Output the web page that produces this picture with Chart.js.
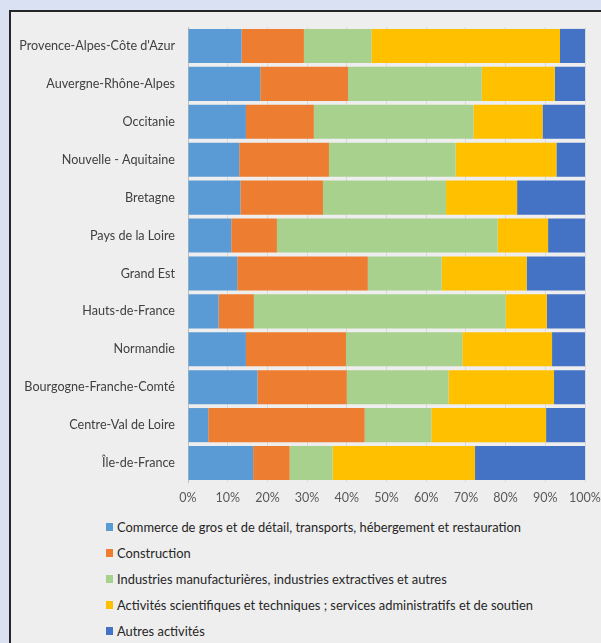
<!DOCTYPE html>
<html>
<head>
<meta charset="utf-8">
<script src="https://cdn.jsdelivr.net/npm/chart.js@4"></script>
<style>
  body { margin: 0; background: #dae1f3; font-family: Lato, "Open Sans", sans-serif; }
  #frame { position: absolute; left: 9px; top: 10px; width: 640px; height: 680px;
           background: #eeeeee; border-left: 2px solid #262626; border-top: 2px solid #262626; }
  #wrap { position: absolute; left: 0; top: 0; width: 601px; height: 512px; }
  #legend { position: absolute; left: 106px; top: 514px; margin: 0; padding: 0; list-style: none; }
  #legend li { height: 26px; display: flex; align-items: center; font-size: 12.9px; color: #262626; }
  #legend span.box { display: inline-block; width: 7px; height: 8px; margin-right: 4px; }
</style>
</head>
<body>
<div id="frame"></div>
<div id="wrap"><canvas id="chart"></canvas></div>
<ul id="legend"></ul>
<script>
// Régions (du haut vers le bas)
const regions = [
    "Provence-Alpes-Côte d'Azur", "Auvergne-Rhône-Alpes", "Occitanie", "Nouvelle - Aquitaine",
    "Bretagne", "Pays de la Loire", "Grand Est", "Hauts-de-France", "Normandie",
    "Bourgogne-Franche-Comté", "Centre-Val de Loire", "Île-de-France"
];

// Parts en % par secteur
const commerce     = [13.5, 18.2, 14.6, 12.9, 13.2, 10.9, 12.4,  7.7, 14.6, 17.5,  5.1, 16.4];
const construction = [15.7, 22.1, 17.1, 22.6, 20.8, 11.5, 32.9,  8.9, 25.2, 22.5, 39.4,  9.2];
const industrie    = [17.0, 33.7, 40.2, 31.9, 31.0, 55.6, 18.6, 63.4, 29.3, 25.6, 16.8, 10.8];
const scientifique = [47.5, 18.4, 17.4, 25.4, 17.9, 12.7, 21.4, 10.4, 22.6, 26.6, 28.9, 35.9];
const autres       = [ 6.3,  7.6, 10.7,  7.2, 17.1,  9.3, 14.7,  9.6,  8.3,  7.8,  9.8, 27.7];

const seriesNames = [
    "Commerce de gros et de détail, transports, hébergement et restauration",
    "Construction",
    "Industries manufacturières, industries extractives et autres",
    "Activités scientifiques et techniques ; services administratifs et de soutien",
    "Autres activités"
];
const xTicks = [0, 10, 20, 30, 40, 50, 60, 70, 80, 90, 100];

const colors = ["#5b9bd5", "#ed7d31", "#a9d18e", "#ffc000", "#4472c4"];
const values = [commerce, construction, industrie, scientifique, autres];

const ctx = document.getElementById("chart").getContext("2d");
const chart = new Chart(ctx, {
    type: "bar",
    data: {
        labels: regions,
        datasets: values.map((v, i) => ({
            label: seriesNames[i],
            data: v,
            backgroundColor: colors[i],
            borderWidth: 0,
            barPercentage: 1,
            categoryPercentage: 0.9,
        }))
    },
    options: {
        indexAxis: "y",
        responsive: true,
        maintainAspectRatio: false,
        animation: false,
        layout: { padding: { top: 27, right: 16, left: 0, bottom: 0 } },
        plugins: { legend: { display: false }, tooltip: { enabled: false } },
        scales: {
            x: {
                stacked: true,
                min: 0,
                max: 100,
                afterBuildTicks: (s) => { s.ticks = xTicks.map(v => ({ value: v })); },
                afterFit: (s) => { s.height = 30; s.paddingRight = 0; s.paddingLeft = 0; },
                grid: { color: "#d9d9d9", drawTicks: false },
                border: { display: false },
                ticks: {
                    padding: 8,
                    color: "#595959",
                    font: { family: "Lato", size: 12.5 },
                    callback: (v) => v + "%",
                }
            },
            y: {
                stacked: true,
                afterFit: (s) => { s.width = 188; },
                grid: { display: false, drawTicks: false },
                border: { color: "#bfbfbf" },
                ticks: {
                    padding: 13,
                    color: "#404040",
                    font: { family: "Lato", size: 12.6 },
                }
            }
        }
    }
});

// légende HTML
const legendEl = document.getElementById("legend");
seriesNames.forEach((name, i) => {
    const li = document.createElement("li");
    const box = document.createElement("span");
    box.className = "box";
    box.style.background = colors[i];
    li.appendChild(box);
    li.appendChild(document.createTextNode(name));
    legendEl.appendChild(li);
});
</script>
</body>
</html>
